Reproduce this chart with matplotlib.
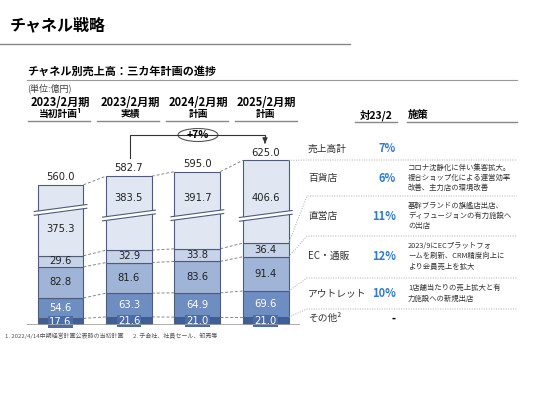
import matplotlib.pyplot as plt
from matplotlib.patches import Ellipse, Polygon
from matplotlib.transforms import Affine2D
import numpy as np

plt.rcParams['font.family'] = ['Noto Sans CJK JP', 'DejaVu Sans']

# data
periods = ['2023/2月期', '2023/2月期', '2024/2月期', '2025/2月期']
period_sub = ['当初計画¹', '実績', '計画', '計画']
other = [17.6, 21.6, 21.0, 21.0]
outlet = [54.6, 63.3, 64.9, 69.6]
ec = [82.8, 81.6, 83.6, 91.4]
direct = [29.6, 32.9, 33.8, 36.4]
dept = [375.3, 383.5, 391.7, 406.6]
totals = [560.0, 582.7, 595.0, 625.0]

rows = ['売上高計', '百貨店', '直営店', 'EC・通販', 'アウトレット', 'その他²']
growth = ['7%', '6%', '11%', '12%', '10%', '-']
measures = ['',
            'コロナ沈静化に伴い集客拡大。\n複合ショップ化による運営効率\n改善、主力店の環境改善',
            '基幹ブランドの旗艦店出店、\nディフュージョンの有力施設へ\nの出店',
            '2023/9にECプラットフォ\nームを刷新、CRM精度向上に\nより会員売上を拡大',
            '1店舗当たりの売上拡大と有\n力施設への新規出店',
            '']

# style
colors = ['#3F5F99', '#6E8EC2', '#9FB4D7', '#C7D3E8', '#E0E7F2']
edge = '#4C5C7A'
cut = 186            # broken axis: amount removed from the department store segment
dept_label_y = [256, 339, 339, 339]
break_y = [307, 292, 293, 291]
width = 0.67

fig = plt.figure(figsize=(5.33, 4), dpi=100)
# transform in reference pixels (origin top-left)
T = Affine2D().scale(1 / 533, -1 / 400).translate(0, 1) + fig.transFigure

ax = fig.add_axes([27 / 533, 75 / 400, 273 / 533, 175 / 400])
ax.set_xlim(-0.49, 3.5)
ax.set_ylim(0, 175 / 0.375)
ax.axis('off')

x = np.arange(len(totals))
segs = [other, outlet, ec, direct, [d - cut for d in dept]]
vals = [other, outlet, ec, direct, dept]
bottom = np.zeros(len(x))
levels = []
for i, seg in enumerate(segs):
    ax.bar(x, seg, width, bottom=bottom, color=colors[i], edgecolor=edge, linewidth=0.8, zorder=2)
    for j in range(len(x)):
        v = vals[i][j]
        if i == 4:
            yy = dept_label_y[j]
        else:
            yy = bottom[j] + seg[j] / 2
        if i == 0:
            ax.text(x[j], yy, f'{v:.1f}', ha='center', va='center', fontsize=7.2, color='white',
                    family='DejaVu Sans', zorder=5,
                    bbox=dict(boxstyle='square,pad=0.12', fc='#4A6CA8', ec='none'))
        else:
            ax.text(x[j], yy, f'{v:.1f}', ha='center', va='center', fontsize=7.2,
                    color='white' if i == 1 else '#222222', family='DejaVu Sans', zorder=5)
    bottom = bottom + np.array(seg)
    levels.append(bottom.copy())

# totals
for j in range(len(x)):
    ax.annotate(f'{totals[j]:.1f}', (x[j], levels[-1][j]), xytext=(0, 2), textcoords='offset points',
                ha='center', va='bottom', fontsize=7.2, family='DejaVu Sans', color='#222222')

# break marks
rise = 18.7
gap = 10
ext = 0.05
for j in range(len(x)):
    xl, xr = x[j] - width / 2 - ext, x[j] + width / 2 + ext
    yb = break_y[j]
    poly = Polygon([(xl, yb - rise / 2 - gap / 2), (xr, yb + rise / 2 - gap / 2),
                    (xr, yb + rise / 2 + gap / 2), (xl, yb - rise / 2 + gap / 2)],
                   closed=True, fc='white', ec='none', zorder=3, clip_on=False)
    ax.add_patch(poly)
    for s in (-1, 1):
        ax.plot([xl, xr], [yb - rise / 2 + s * gap / 2, yb + rise / 2 + s * gap / 2],
                color=edge, lw=0.8, zorder=4, clip_on=False)

# connectors between bars
for lv in levels:
    for j in range(len(x) - 1):
        ax.plot([x[j] + width / 2, x[j + 1] - width / 2], [lv[j], lv[j + 1]],
                color='#888888', lw=0.7, ls=(0, (3, 2)), zorder=1)

ax.axhline(0, color='#A0A0A0', lw=1.2, zorder=6, xmin=0, xmax=1)

# connectors from last bar to the table rows
row_sep = [160, 196, 236, 278, 309]
conn_levels = [levels[4], levels[3], levels[2], levels[1], levels[0]]
inv = T.inverted()
for lv, ry in zip(conn_levels, row_sep):
    p = inv.transform(ax.transData.transform((x[-1] + width / 2, lv[-1])))
    fig.add_artist(plt.Line2D([p[0], 307, 517], [p[1], ry, ry], transform=T,
                              color='#AAAAAA', lw=0.7, ls=(0, (1, 1.5))))

# +7% arrow
fig.add_artist(plt.Line2D([130, 130, 265, 265], [158, 135, 135, 141], transform=T, color='#333333', lw=0.8))
ax.annotate('', xy=(265, 146), xytext=(265, 140), xycoords=T, textcoords=T,
            arrowprops=dict(arrowstyle='-|>,head_width=0.15,head_length=0.3', color='#333333', lw=0.8))
fig.add_artist(Ellipse((198, 135), 40, 13, transform=T, fc='white', ec='#555555', lw=0.8))
fig.text(198, 135, '+7%', transform=T, ha='center', va='center', fontsize=7.5, fontweight='bold')

# headings
fig.text(10, 25, 'チャネル戦略', transform=T, ha='left', va='center', fontsize=11.5, fontweight='bold')
fig.add_artist(plt.Line2D([0, 350], [43.5, 43.5], transform=T, color='#888888', lw=1))
fig.text(27, 71, 'チャネル別売上高：三カ年計画の進捗', transform=T, ha='left', va='center',
         fontsize=8, fontweight='bold')
fig.add_artist(plt.Line2D([27, 517], [80, 80], transform=T, color='#999999', lw=0.8))
fig.text(27, 88, '(単位:億円)', transform=T, ha='left', va='center', fontsize=6.5, color='#444444')

cx = [60.5, 130, 198.5, 266]
ul = [(28, 90), (97, 159), (166, 228), (235, 297)]
for j in range(len(cx)):
    fig.text(cx[j], 103, periods[j], transform=T, ha='center', va='center', fontsize=8, fontweight='bold')
    fig.text(cx[j], 113.5, period_sub[j], transform=T, ha='center', va='center', fontsize=7, fontweight='bold')
    fig.add_artist(plt.Line2D(ul[j], [121, 121], transform=T, color='#888888', lw=1))

# right table
fig.text(376, 115, '対23/2', transform=T, ha='center', va='center', fontsize=7.5, fontweight='bold')
fig.text(408, 115, '施策', transform=T, ha='left', va='center', fontsize=7.5, fontweight='bold')
fig.add_artist(plt.Line2D([355, 397], [122, 122], transform=T, color='#888888', lw=1))
fig.add_artist(plt.Line2D([407, 517], [122, 122], transform=T, color='#888888', lw=1))

row_y = [149, 178, 216, 256, 293.5, 318]
for i in range(len(rows)):
    fig.text(308, row_y[i], rows[i], transform=T, ha='left', va='center', fontsize=7, color='#333333')
    fig.text(396, row_y[i], growth[i], transform=T, ha='right', va='center', fontsize=8,
             fontweight='bold', color='#000000' if growth[i] == '-' else '#2F7BD0')
    if measures[i]:
        fig.text(408, row_y[i], measures[i], transform=T, ha='left', va='center', fontsize=5.3,
                 color='#333333', linespacing=1.4)

# footnotes
fig.text(5, 336, '1. 2022/4/14中期経営計画公表時の当初計画', transform=T, ha='left', va='center',
         fontsize=4.3, color='#555555')
fig.text(133, 336, '2. 子会社、社員セール、卸売等', transform=T, ha='left', va='center',
         fontsize=4.3, color='#555555')

fig.savefig('out.png', dpi=100)
